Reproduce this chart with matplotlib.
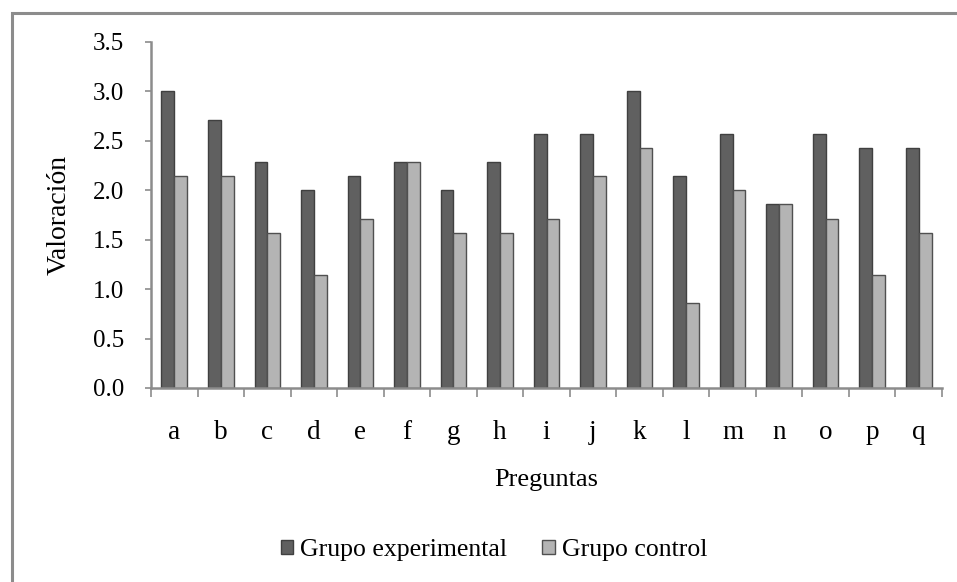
import matplotlib.pyplot as plt
import numpy as np
from matplotlib.patches import Rectangle
from matplotlib.ticker import FormatStrFormatter

plt.rcParams["font.family"] = ["Liberation Serif", "DejaVu Serif"]

preguntas = list("abcdefghijklmnopq")
experimental = [3.00, 2.71, 2.29, 2.00, 2.14, 2.29, 2.00, 2.29, 2.57,
                2.57, 3.00, 2.14, 2.57, 1.86, 2.57, 2.43, 2.43]
control = [2.14, 2.14, 1.57, 1.14, 1.71, 2.29, 1.57, 1.57, 1.71,
           2.14, 2.43, 0.86, 2.00, 1.86, 1.71, 1.14, 1.57]
yticks = [0.0, 0.5, 1.0, 1.5, 2.0, 2.5, 3.0, 3.5]

W, H = 957, 582
fig = plt.figure(figsize=(W / 100, H / 100), dpi=100)
fig.patch.set_facecolor("white")

# outer frame, cut by the right and bottom edges
fig.patches.append(Rectangle((12 / W, -0.05), 1.1, 1 - 13 / H + 0.05,
                             transform=fig.transFigure, fill=False,
                             edgecolor="#8c8c8c", linewidth=2.2))

ax = fig.add_axes([151 / W, 1 - 388 / H, (942 - 151) / W, (388 - 42) / H])

x = np.arange(len(preguntas))
w = 0.275
ax.bar(x - w / 2, experimental, w, color="#606060", edgecolor="#404040",
       linewidth=1.0, label="Grupo experimental")
ax.bar(x + w / 2, control, w, color="#b4b4b4", edgecolor="#505050",
       linewidth=1.0, label="Grupo control")

ax.set_xlim(-0.5, len(preguntas) - 0.5)
ax.set_ylim(0, 3.5)
ax.set_yticks(yticks)
ax.yaxis.set_major_formatter(FormatStrFormatter("%.1f"))

ax.set_xticks(x)
ax.set_xticklabels(preguntas)
ax.set_xticks(np.arange(-0.5, len(preguntas)), minor=True)
ax.tick_params(axis="x", which="major", length=0, pad=23, labelsize=19.5)
ax.tick_params(axis="x", which="minor", length=6.5, width=1.2,
               color="#8c8c8c", direction="out")
ax.tick_params(axis="y", length=4.3, width=1.2, color="#8c8c8c",
               labelsize=18, pad=15)

for side in ["top", "right"]:
    ax.spines[side].set_visible(False)
for side in ["left", "bottom"]:
    ax.spines[side].set_color("#8c8c8c")
    ax.spines[side].set_linewidth(1.8)

ax.set_ylabel("Valoración", fontsize=20, labelpad=15)
ax.set_xlabel("Preguntas", fontsize=19, labelpad=17)

fig.legend(loc="center", bbox_to_anchor=(494 / W, 1 - 550 / H), ncol=2,
           frameon=False, fontsize=18.5, handlelength=0.5, handleheight=0.5,
           handletextpad=0.27, columnspacing=1.36)

fig.savefig("out.png", dpi=100)
